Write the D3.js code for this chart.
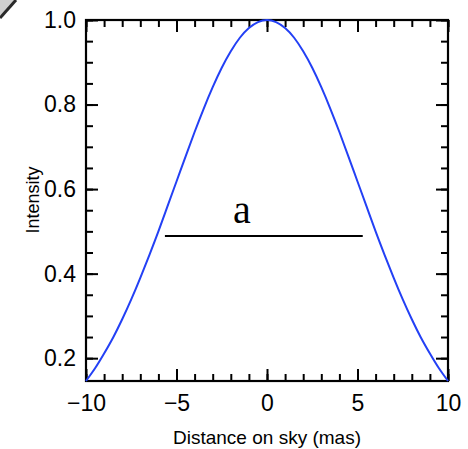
<!DOCTYPE html>
<html>
<head>
<meta charset="utf-8">
<script src="https://cdn.jsdelivr.net/npm/d3@7"></script>
<style>
  html, body { margin: 0; padding: 0; background: #fff; }
  svg { display: block; }
</style>
</head>
<body>
<svg id="chart" width="468" height="449"></svg>
<script>
// Beam profile: intensity vs. angular distance on the sky
const distance = [-10, -9.5, -9, -8.5, -8, -7.5, -7, -6.5, -6, -5.5, -5, -4.5, -4, -3.5, -3, -2.5, -2, -1.5, -1, -0.5,
  0, 0.5, 1, 1.5, 2, 2.5, 3, 3.5, 4, 4.5, 5, 5.5, 6, 6.5, 7, 7.5, 8, 8.5, 9, 9.5, 10];
const intensity = [0.146, 0.176, 0.211, 0.249, 0.292, 0.339, 0.390, 0.444, 0.500, 0.559, 0.618, 0.677, 0.735, 0.790, 0.841, 0.887, 0.926, 0.958, 0.981, 0.995,
  1.000, 0.995, 0.981, 0.958, 0.926, 0.887, 0.841, 0.790, 0.735, 0.677, 0.618, 0.559, 0.500, 0.444, 0.390, 0.339, 0.292, 0.249, 0.211, 0.176, 0.146];

// Width marker "a" across the profile
const widthStart = -5.64;
const widthEnd = 5.29;
const widthLevel = 0.489;
const widthLabel = "a";

const xTicks = [-10, -5, 0, 5, 10];
const xMinorTicks = d3.range(-10, 10.01, 1);
const yTicks = [0.2, 0.4, 0.6, 0.8, 1.0];
const yMinorTicks = [0.2, 0.25, 0.3, 0.35, 0.4, 0.45, 0.5, 0.55, 0.6, 0.65, 0.7, 0.75, 0.8, 0.85, 0.9, 0.95, 1.0];

const xTitle = "Distance on sky (mas)";
const yTitle = "Intensity";

const svg = d3.select("#chart");
const plotLeft = 86, plotRight = 448, plotTop = 20, plotBottom = 381;
const x = d3.scaleLinear().domain([-10, 10]).range([plotLeft, plotRight]);
const y = d3.scaleLinear().domain([0.146, 1.0]).range([plotBottom, plotTop]);

const font = "'Liberation Sans', Arial, Helvetica, sans-serif";

// corner of the slide backdrop
svg.append("path")
  .attr("d", "M0,0 L16,0 L0,18 Z")
  .attr("fill", "#cfcfcf");
svg.append("line")
  .attr("x1", 16).attr("y1", 0).attr("x2", 0).attr("y2", 18)
  .attr("stroke", "#2a2a2a").attr("stroke-width", 3);

function styleAxis(g) {
  g.select(".domain").remove();
  g.selectAll(".tick line").attr("stroke", "#000").attr("stroke-width", 2);
  g.selectAll(".tick text").attr("font-family", font).attr("font-size", 23).attr("fill", "#000");
}

// minor ticks on all four sides
svg.append("g").attr("transform", `translate(0,${plotBottom})`)
  .call(d3.axisBottom(x).tickValues(xMinorTicks).tickSize(-7).tickFormat(""))
  .call(styleAxis);
svg.append("g").attr("transform", `translate(0,${plotTop})`)
  .call(d3.axisTop(x).tickValues(xMinorTicks).tickSize(-7).tickFormat(""))
  .call(styleAxis);
svg.append("g").attr("transform", `translate(${plotLeft},0)`)
  .call(d3.axisLeft(y).tickValues(yMinorTicks).tickSize(-7).tickFormat(""))
  .call(styleAxis);
svg.append("g").attr("transform", `translate(${plotRight},0)`)
  .call(d3.axisRight(y).tickValues(yMinorTicks).tickSize(-7).tickFormat(""))
  .call(styleAxis);

// major ticks, labelled on the bottom and left
svg.append("g").attr("transform", `translate(0,${plotBottom})`)
  .call(d3.axisBottom(x).tickValues(xTicks).tickSize(-12).tickPadding(14).tickFormat(d3.format("d")))
  .call(styleAxis);
svg.append("g").attr("transform", `translate(0,${plotTop})`)
  .call(d3.axisTop(x).tickValues(xTicks).tickSize(-12).tickFormat(""))
  .call(styleAxis);
svg.append("g").attr("transform", `translate(${plotLeft},0)`)
  .call(d3.axisLeft(y).tickValues(yTicks).tickSize(-12).tickPadding(10).tickFormat(d3.format(".1f")))
  .call(styleAxis);
svg.append("g").attr("transform", `translate(${plotRight},0)`)
  .call(d3.axisRight(y).tickValues(yTicks).tickSize(-12).tickFormat(""))
  .call(styleAxis);

// frame
svg.append("rect")
  .attr("x", plotLeft).attr("y", plotTop)
  .attr("width", plotRight - plotLeft).attr("height", plotBottom - plotTop)
  .attr("fill", "none").attr("stroke", "#000").attr("stroke-width", 2.2);

// profile curve
const line = d3.line()
  .x((d, i) => x(distance[i]))
  .y(d => y(d))
  .curve(d3.curveNatural);
svg.append("path")
  .datum(intensity)
  .attr("d", line)
  .attr("fill", "none")
  .attr("stroke", "#2340f5")
  .attr("stroke-width", 2);

// width marker
svg.append("line")
  .attr("x1", x(widthStart)).attr("x2", x(widthEnd))
  .attr("y1", y(widthLevel)).attr("y2", y(widthLevel))
  .attr("stroke", "#000").attr("stroke-width", 2.2);
svg.append("text")
  .attr("x", x((widthStart + widthEnd) / 2) - 22)
  .attr("y", y(widthLevel) - 13)
  .attr("text-anchor", "middle")
  .attr("font-family", "'Liberation Serif', 'Times New Roman', serif")
  .attr("font-size", 40)
  .text(widthLabel);

// axis titles
svg.append("text")
  .attr("x", (plotLeft + plotRight) / 2)
  .attr("y", 444)
  .attr("text-anchor", "middle")
  .attr("font-family", font)
  .attr("font-size", 19)
  .text(xTitle);
svg.append("text")
  .attr("transform", "translate(39,200) rotate(-90)")
  .attr("text-anchor", "middle")
  .attr("font-family", font)
  .attr("font-size", 18)
  .text(yTitle);
</script>
</body>
</html>
